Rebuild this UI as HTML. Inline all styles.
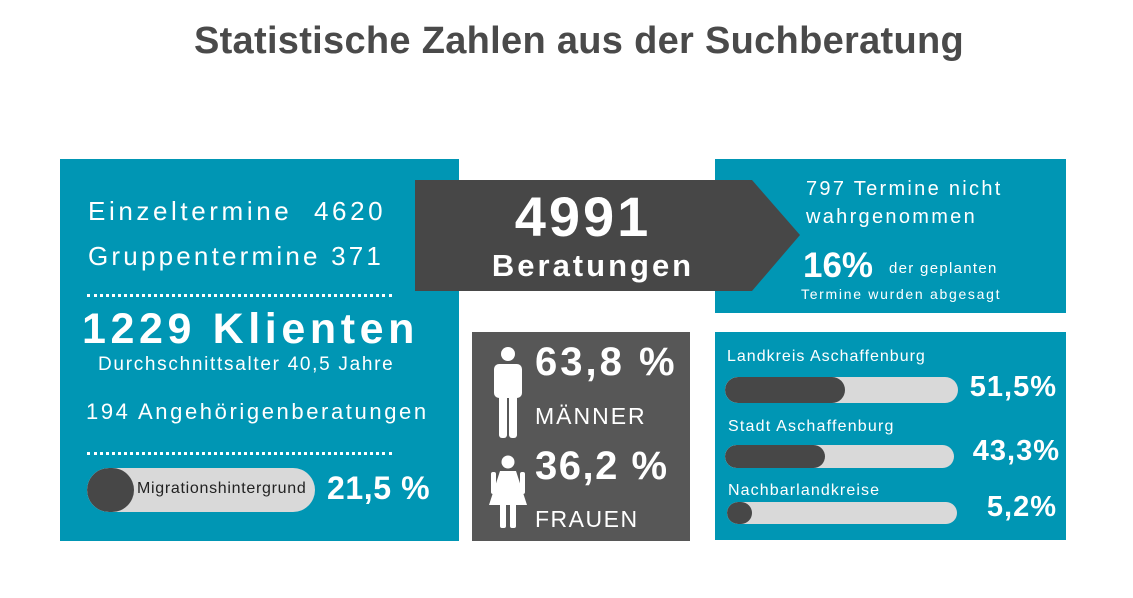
<!DOCTYPE html>
<html><head><meta charset="utf-8"><style>
body{margin:0;width:1133px;height:598px;background:#fff;position:relative;overflow:hidden;font-family:"Liberation Sans",sans-serif;}
.a{position:absolute;white-space:nowrap;}
.w{color:#fff;}
.b{font-weight:bold;}
.box{position:absolute;}
.dots{position:absolute;height:0;border-top:3px dotted #fff;}
.track{position:absolute;background:#d9d9d9;border-radius:14px;overflow:hidden;}
.fill{position:absolute;left:0;top:0;bottom:0;background:#474747;border-radius:14px;}
</style></head><body>
<div class="a b" style="left:0;width:1158px;text-align:center;top:20px;font-size:38px;color:#4a4a4a;letter-spacing:0.3px;">Statistische Zahlen aus der Suchberatung</div>

<div class="box" style="left:60px;top:159px;width:399px;height:382px;background:#0096b4;"></div>
<div class="box" style="left:715px;top:159px;width:351px;height:154px;background:#0096b4;"></div>
<div class="box" style="left:472px;top:332px;width:218px;height:209px;background:#575757;"></div>
<div class="box" style="left:715px;top:332px;width:351px;height:208px;background:#0096b4;"></div>

<svg class="box" style="left:0;top:0" width="1133" height="598"><polygon points="415,180 752,180 800,235 752,291 415,291" fill="#474747"/>
<g fill="#fff"><circle cx="508" cy="354" r="7"/><rect x="494" y="364" width="28" height="34" rx="5"/><rect x="499" y="390" width="8" height="48" rx="3"/><rect x="509" y="390" width="8" height="48" rx="3"/>
<circle cx="508" cy="462" r="6.5"/><polygon points="500,471 516,471 527,505 489,505"/><rect x="500" y="500" width="6" height="28" rx="2"/><rect x="510" y="500" width="6" height="28" rx="2"/><rect x="491" y="472" width="5" height="22" rx="2"/><rect x="520" y="472" width="5" height="22" rx="2"/></g>
</svg>

<div class="a w" style="left:88px;top:196px;font-size:26px;letter-spacing:3.6px;">Einzeltermine&nbsp; 4620</div>
<div class="a w" style="left:88px;top:241px;font-size:26px;letter-spacing:3.2px;">Gruppentermine 371</div>
<div class="dots" style="left:87px;top:294px;width:305px;"></div>
<div class="a w b" style="left:82px;top:305px;font-size:43px;letter-spacing:4.6px;">1229 Klienten</div>
<div class="a w" style="left:98px;top:354px;font-size:19px;letter-spacing:1.7px;">Durchschnittsalter 40,5 Jahre</div>
<div class="a w" style="left:86px;top:399px;font-size:22px;letter-spacing:2.6px;">194 Angehörigenberatungen</div>
<div class="dots" style="left:87px;top:452px;width:305px;"></div>
<div class="track" style="left:87px;top:468px;width:228px;height:44px;border-radius:22px;"><div class="fill" style="width:47px;border-radius:22px;"></div></div>
<div class="a" style="left:137px;top:480px;font-size:16px;color:#222;letter-spacing:0.7px;">Migrationshintergrund</div>
<div class="a w b" style="left:327px;top:470px;font-size:32px;letter-spacing:0.6px;">21,5 %</div>

<div class="a w b" style="left:415px;width:336px;text-align:center;top:184px;font-size:56px;letter-spacing:3px;">4991</div>
<div class="a w b" style="left:415px;width:356px;text-align:center;top:248px;font-size:31px;letter-spacing:3px;">Beratungen</div>

<div class="a w" style="left:806px;top:178px;font-size:20px;letter-spacing:2.3px;">797 Termine nicht</div>
<div class="a w" style="left:806px;top:206px;font-size:20px;letter-spacing:2.3px;">wahrgenommen</div>
<div class="a w b" style="left:803px;top:246px;font-size:35px;">16%</div>
<div class="a w" style="left:889px;top:260px;font-size:15px;letter-spacing:1.3px;">der geplanten</div>
<div class="a w" style="left:801px;top:286px;font-size:14px;letter-spacing:1.7px;">Termine wurden abgesagt</div>

<div class="a w b" style="left:535px;top:340px;font-size:40px;letter-spacing:3px;">63,8 %</div>
<div class="a w" style="left:535px;top:403px;font-size:23px;letter-spacing:2px;">MÄNNER</div>
<div class="a w b" style="left:535px;top:444px;font-size:40px;letter-spacing:1.5px;">36,2 %</div>
<div class="a w" style="left:535px;top:506px;font-size:23px;letter-spacing:1.5px;">FRAUEN</div>

<div class="a w" style="left:727px;top:348px;font-size:16px;letter-spacing:1px;">Landkreis Aschaffenburg</div>
<div class="track" style="left:725px;top:377px;width:233px;height:26px;"><div class="fill" style="width:120px;"></div></div>
<div class="a w b" style="right:76px;top:371px;font-size:29px;letter-spacing:1px;">51,5%</div>
<div class="a w" style="left:728px;top:418px;font-size:16px;letter-spacing:1.2px;">Stadt Aschaffenburg</div>
<div class="track" style="left:725px;top:445px;width:229px;height:23px;"><div class="fill" style="width:100px;"></div></div>
<div class="a w b" style="right:73px;top:435px;font-size:29px;letter-spacing:1px;">43,3%</div>
<div class="a w" style="left:728px;top:482px;font-size:16px;letter-spacing:1.1px;">Nachbarlandkreise</div>
<div class="track" style="left:727px;top:502px;width:230px;height:22px;"><div class="fill" style="width:25px;"></div></div>
<div class="a w b" style="right:76px;top:491px;font-size:29px;letter-spacing:1px;">5,2%</div>
</body></html>
